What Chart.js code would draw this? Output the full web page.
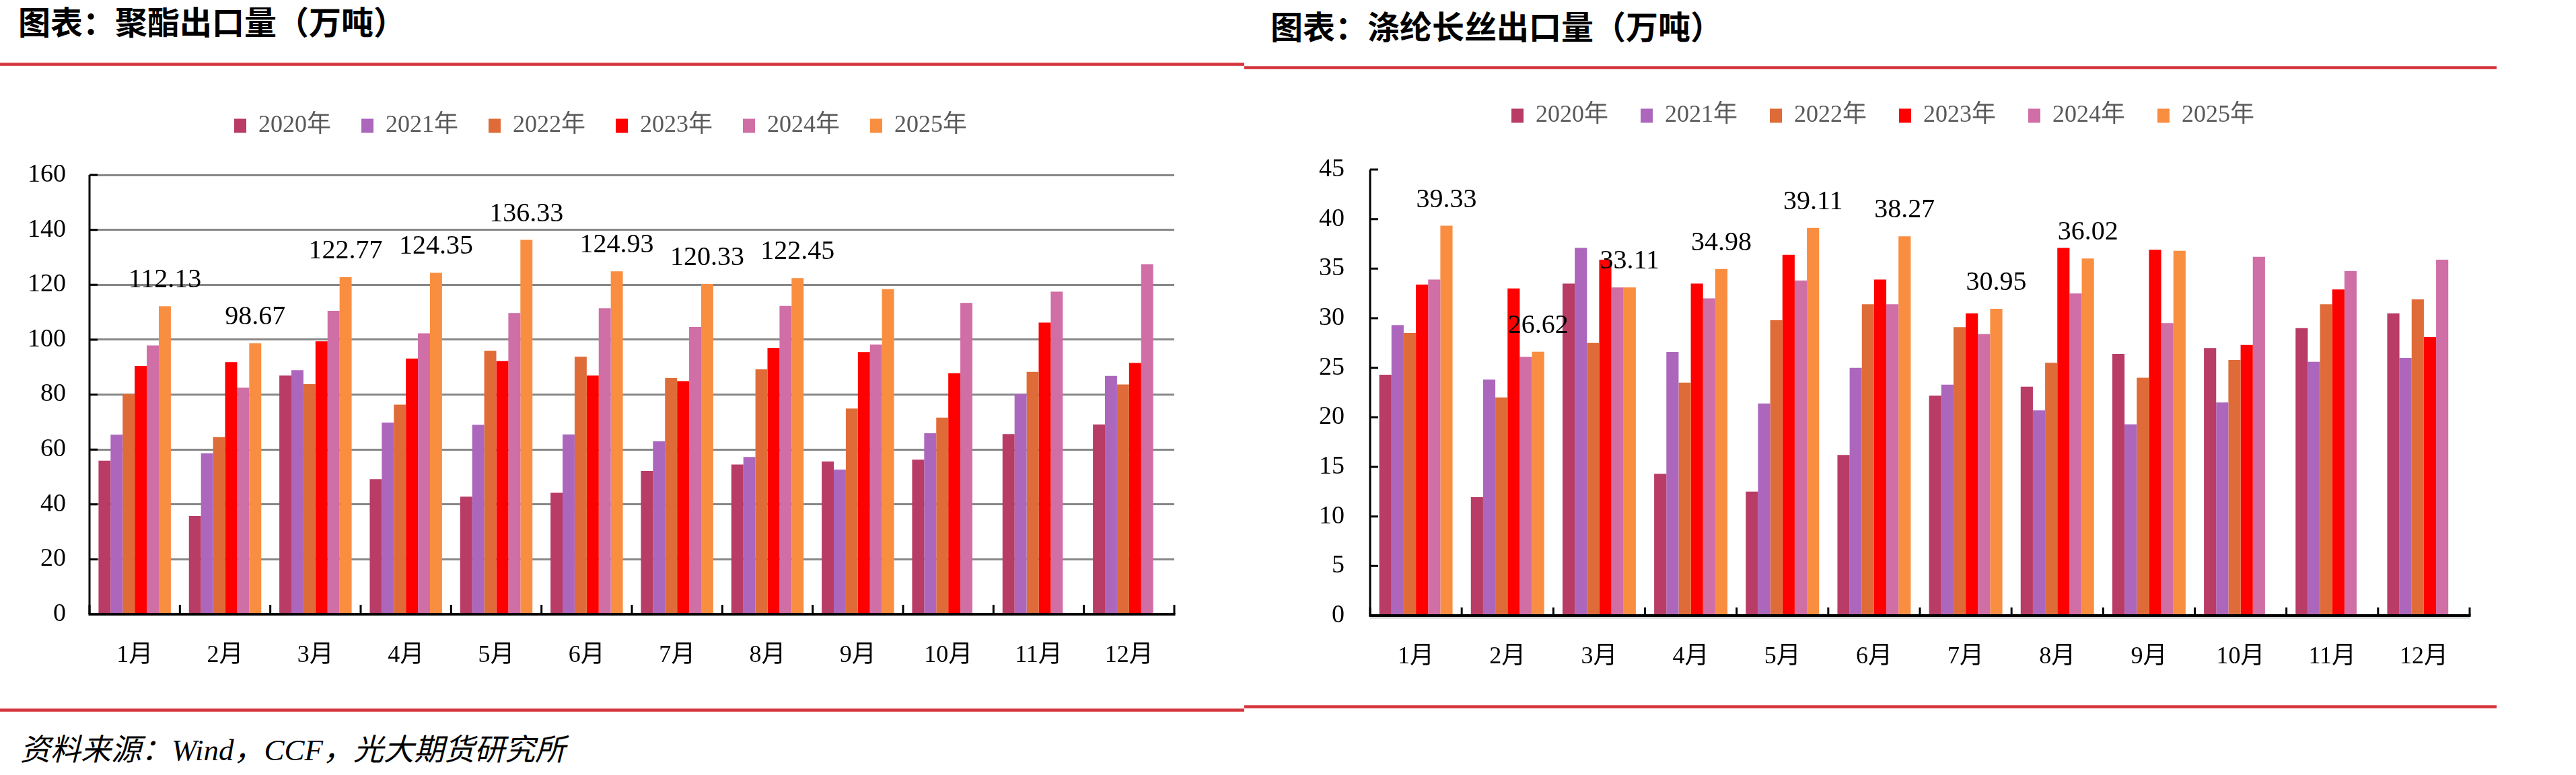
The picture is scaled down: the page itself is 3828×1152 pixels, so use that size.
<!DOCTYPE html>
<html>
<head>
<meta charset="utf-8">
<script src="https://cdn.jsdelivr.net/npm/chart.js@4.4.1/dist/chart.umd.min.js"></script>
<style>
html,body{margin:0;padding:0;background:#fff;}
body{width:3828px;height:1152px;overflow:hidden;position:relative;}
.title{position:absolute;font-family:"Noto Sans CJK SC",sans-serif;font-weight:bold;font-size:48px;line-height:48px;color:#000;white-space:nowrap;}
.rule{position:absolute;height:5px;background:linear-gradient(#EA8D91,#D4353D 30%,#D4353D 75%,#E46E73);}
.src{position:absolute;left:30px;top:1093px;font-family:"Liberation Serif","Noto Sans CJK SC",serif;font-style:italic;font-size:45px;line-height:45px;color:#000;white-space:nowrap;}
canvas{position:absolute;}
</style>
</head>
<body>
<div class="title" style="left:27px;top:6px;">图表：聚酯出口量（万吨）</div>
<div class="title" style="left:1888px;top:13px;">图表：涤纶长丝出口量（万吨）</div>
<div class="rule" style="left:0;top:93px;width:1849px;"></div>
<div class="rule" style="left:1849px;top:98px;width:1861px;"></div>
<div class="rule" style="left:0;top:1053px;width:1849px;"></div>
<div class="rule" style="left:1849px;top:1048px;width:1861px;"></div>
<div class="src">资料来源：Wind，CCF，光大期货研究所</div>
<canvas id="c1" width="1848" height="900" style="left:0;top:110px;width:1848px;height:900px;"></canvas>
<canvas id="c2" width="1980" height="900" style="left:1848px;top:90px;width:1980px;height:900px;"></canvas>
<script>
// ---- data ----
const months = ['1月','2月','3月','4月','5月','6月','7月','8月','9月','10月','11月','12月'];
const seriesNames = ['2020年','2021年','2022年','2023年','2024年','2025年'];

const polyester2020 = [55.9, 35.8, 86.9, 49.2, 42.8, 44.2, 52.2, 54.5, 55.6, 56.3, 65.6, 69.1];
const polyester2021 = [65.4, 58.6, 88.9, 69.8, 69.0, 65.5, 63.0, 57.3, 52.7, 65.9, 80.2, 86.8];
const polyester2022 = [80.2, 64.5, 83.8, 76.3, 95.9, 93.8, 86.0, 89.2, 74.9, 71.6, 88.3, 83.7];
const polyester2023 = [90.4, 91.8, 99.4, 93.1, 92.2, 86.9, 84.9, 97.0, 95.5, 87.8, 106.2, 91.5];
const polyester2024 = [97.9, 82.5, 110.5, 102.3, 109.7, 111.4, 104.6, 112.3, 98.2, 113.4, 117.5, 127.5];
const polyester2025 = [112.13, 98.67, 122.77, 124.35, 136.33, 124.93, 120.33, 122.45, 118.4, null, null, null];
const polyesterTicks = [0, 20, 40, 60, 80, 100, 120, 140, 160];

const filament2020 = [24.3, 11.95, 33.5, 14.3, 12.5, 16.2, 22.2, 23.1, 26.4, 27.0, 29.0, 30.5];
const filament2021 = [29.3, 23.8, 37.1, 26.6, 21.4, 25.0, 23.3, 20.7, 19.3, 21.5, 25.6, 26.0];
const filament2022 = [28.5, 22.0, 27.5, 23.5, 29.8, 31.4, 29.1, 25.5, 24.0, 25.8, 31.4, 31.9];
const filament2023 = [33.4, 33.0, 35.9, 33.5, 36.4, 33.9, 30.5, 37.1, 36.9, 27.3, 32.9, 28.1];
const filament2024 = [33.9, 26.1, 33.1, 32.0, 33.8, 31.4, 28.4, 32.5, 29.5, 36.2, 34.75, 35.9];
const filament2025 = [39.33, 26.62, 33.11, 34.98, 39.11, 38.27, 30.95, 36.02, 36.8, null, null, null];
const filamentTicks = [0, 5, 10, 15, 20, 25, 30, 35, 40, 45];

// months (index) whose 2025 value is annotated
const labelledMonths = [0, 1, 2, 3, 4, 5, 6, 7];

// ---- styles ----
const seriesColors = ['#B83C65', '#AC67BD', '#DF6C38', '#FF0000', '#D06EA6', '#FA8E40'];
const FONT = '"Liberation Serif", "Noto Sans CJK SC", serif';

const legendGap = {
  id: 'legendGap',
  beforeLayout(chart, args, opts) {
    const lg = chart.legend;
    if (lg && !lg._gapPatched) {
      const f = lg.fit;
      lg.fit = function () { f.call(this); this.height += opts.gap; };
      lg._gapPatched = true;
    }
  }
};

const axesPlugin = {
  id: 'axesDraw',
  afterDatasetsDraw(chart, args, opts) {
    const {ctx, chartArea: a, scales: {x, y}} = chart;
    const y0 = y.getPixelForValue(0);
    ctx.save();
    ctx.strokeStyle = '#000';
    ctx.lineCap = 'butt';
    // y ticks inward
    ctx.lineWidth = 3;
    ctx.beginPath();
    y.ticks.forEach(t => {
      const py = y.getPixelForValue(t.value);
      ctx.moveTo(a.left, py); ctx.lineTo(a.left + 12, py);
    });
    ctx.stroke();
    // x ticks at category boundaries
    const n = x.ticks.length;
    ctx.beginPath();
    for (let i = 0; i <= n; i++) {
      let b;
      if (i === 0) b = a.left;
      else if (i === n) b = a.right;
      else b = (x.getPixelForValue(i - 1) + x.getPixelForValue(i)) / 2;
      ctx.moveTo(b, y0); ctx.lineTo(b, y0 - opts.xTick);
    }
    ctx.stroke();
    // y axis line
    ctx.lineWidth = 3;
    ctx.beginPath();
    ctx.moveTo(a.left, y.getPixelForValue(y.max)); ctx.lineTo(a.left, y0);
    ctx.stroke();
    // under line
    if (opts.underline) {
      ctx.strokeStyle = '#C8C8C8'; ctx.lineWidth = 2;
      ctx.beginPath(); ctx.moveTo(a.left, y0 + 3.5); ctx.lineTo(a.right, y0 + 3.5); ctx.stroke();
    }
    // x axis line
    ctx.strokeStyle = '#000'; ctx.lineWidth = 4;
    ctx.beginPath(); ctx.moveTo(a.left - 1.5, y0); ctx.lineTo(a.right + 1.5, y0); ctx.stroke();
    ctx.restore();
  }
};

const valueLabels = {
  id: 'valueLabels',
  afterDatasetsDraw(chart, args, opts) {
    const ctx = chart.ctx;
    const di = chart.data.datasets.length - 1;
    const meta = chart.getDatasetMeta(di);
    const vals = chart.data.datasets[di].data;
    ctx.save();
    ctx.font = '40px ' + FONT;
    ctx.fillStyle = '#000';
    ctx.textAlign = 'center';
    ctx.textBaseline = 'alphabetic';
    labelledMonths.forEach(i => {
      const v = vals[i];
      if (v == null) return;
      const el = meta.data[i];
      ctx.fillText(v.toFixed(2), el.x, el.y - 28);
    });
    ctx.restore();
  }
};

function makeChart(id, series, ticks, cfg) {
  const ctx = document.getElementById(id).getContext('2d');
  return new Chart(ctx, {
    type: 'bar',
    data: {
      labels: months,
      datasets: seriesNames.map((name, i) => ({
        label: name,
        data: series[i],
        backgroundColor: seriesColors[i],
        borderWidth: 0,
        categoryPercentage: 0.8,
        barPercentage: 1.0
      }))
    },
    options: {
      responsive: false,
      animation: false,
      devicePixelRatio: 1,
      layout: {padding: {left: cfg.padL, right: cfg.padR, top: cfg.padT, bottom: 0}},
      plugins: {
        legend: {
          position: 'top',
          labels: {
            font: {family: FONT, size: 36},
            color: '#595959',
            boxWidth: 18,
            boxHeight: 21,
            padding: cfg.legendPad
          }
        },
        tooltip: {enabled: false},
        legendGap: {gap: cfg.legendGap},
        axesDraw: {xTick: cfg.xTick, underline: cfg.underline}
      },
      scales: {
        x: {
          grid: {display: false},
          border: {display: false},
          ticks: {font: {family: FONT, size: 36}, color: '#000', padding: 32, maxRotation: 0, autoSkip: false},
          afterFit(s) { s.height = cfg.xH; }
        },
        y: {
          min: ticks[0],
          max: ticks[ticks.length - 1],
          afterBuildTicks(s) { s.ticks = ticks.map(v => ({value: v})); },
          grid: {display: cfg.grid, color: '#878787', lineWidth: 3, drawTicks: false},
          border: {display: false},
          ticks: {font: {family: FONT, size: 38}, color: '#000', padding: cfg.yPad},
          afterFit(s) { s.width = cfg.yW; }
        }
      }
    },
    plugins: [legendGap, axesPlugin, valueLabels]
  });
}

makeChart('c1',
  [polyester2020, polyester2021, polyester2022, polyester2023, polyester2024, polyester2025],
  polyesterTicks,
  {padL: 40, padR: 103, padT: 14, legendPad: 45, legendGap: 45, yW: 93, xH: 97, yPad: 35, grid: true, xTick: 14, underline: false});

makeChart('c2',
  [filament2020, filament2021, filament2022, filament2023, filament2024, filament2025],
  filamentTicks,
  {padL: 78, padR: 158, padT: 16, legendPad: 48, legendGap: 52, yW: 110, xH: 75, yPad: 38, grid: false, xTick: 12, underline: true});
</script>
</body>
</html>
